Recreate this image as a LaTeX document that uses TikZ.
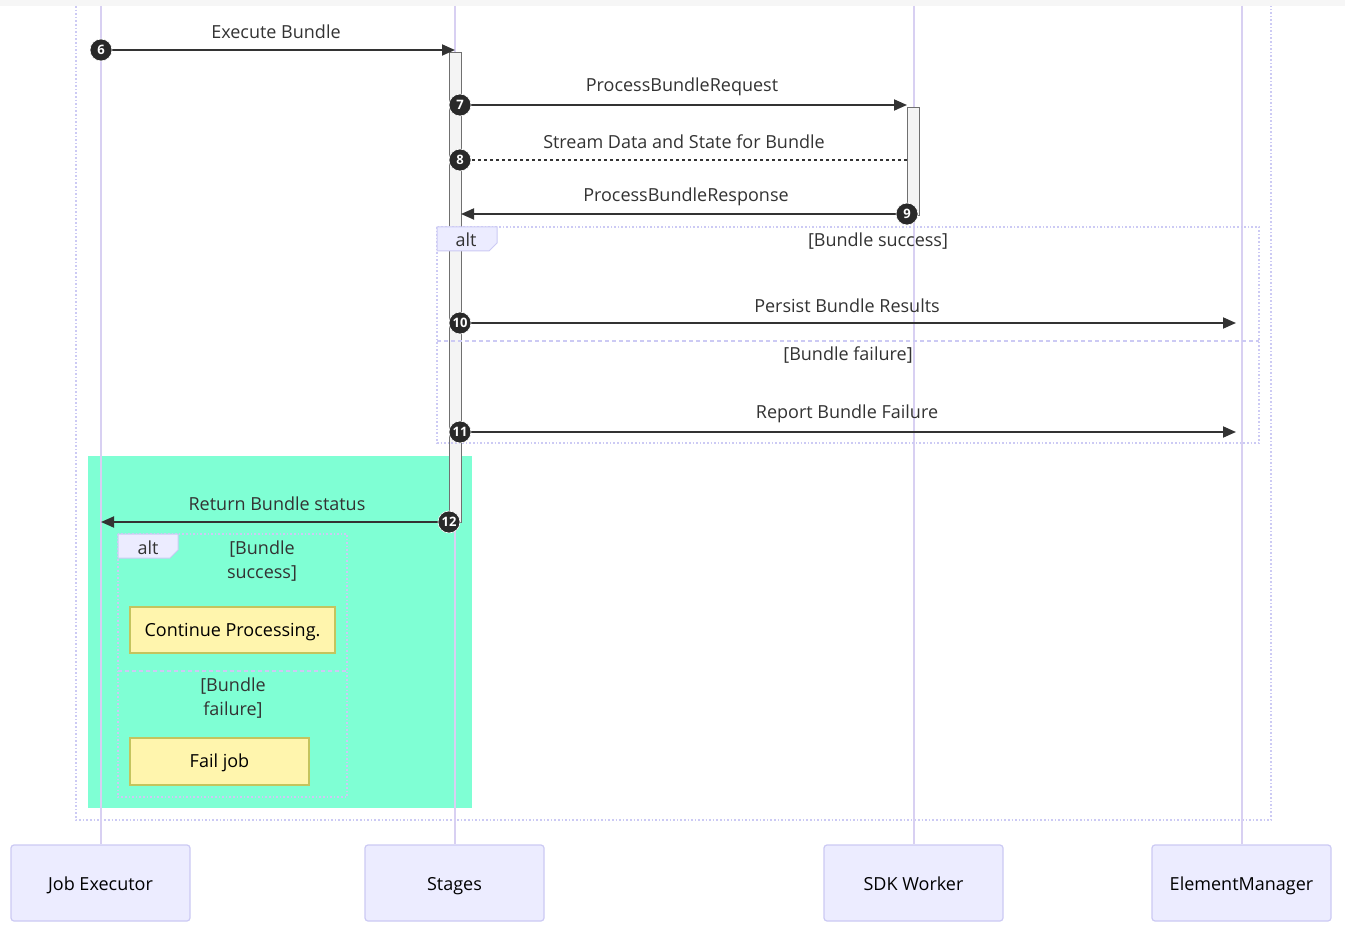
\documentclass[tikz,border=0pt]{standalone}
\usepackage{fontspec}
\setmainfont{Open Sans}
\usetikzlibrary{arrows.meta}
\definecolor{lifeline}{HTML}{D8D0F2}
\definecolor{actfill}{HTML}{ECECFF}
\definecolor{actdraw}{HTML}{CCCAF4}
\definecolor{msg}{HTML}{333333}
\definecolor{aqua}{HTML}{7FFFD4}
\definecolor{notefill}{HTML}{FFF5AD}
\definecolor{notedraw}{HTML}{C4C45E}
\definecolor{actbar}{HTML}{F4F4F4}
\definecolor{topband}{HTML}{F6F6F6}
\tikzset{
  txt/.style={font=\fontsize{18}{24}\selectfont, text=msg, inner sep=0pt},
  actorbox/.style={draw=actdraw, fill=actfill, rounded corners=3pt, line width=1.2pt,
     minimum width=179pt, minimum height=76pt, font=\fontsize{18}{22}\selectfont, text=black,
     text height=15pt, text depth=0pt},
  lifel/.style={draw=lifeline, line width=2pt},
  actbarbox/.style={draw=msg!70, fill=actbar, line width=0.8pt},
  msgline/.style={draw=msg, line width=1.8pt, -{Triangle[length=13pt,width=11pt]}},
  msgdot/.style={draw=msg, line width=1.5pt, dash pattern=on 3pt off 3pt},
  num/.style={circle, fill=msg!80!black, draw=white, line width=0.6pt, minimum size=22pt, inner sep=0pt,
     text=white, font=\fontsize{13}{13}\selectfont\bfseries},
  frame/.style={draw=actdraw, line width=1.6pt, dotted},
  divider/.style={draw=actdraw, line width=1.6pt, dash pattern=on 4pt off 3pt},
  altlbl/.style={draw=actdraw, fill=actfill, line width=1pt},
  notebox/.style={draw=notedraw, fill=notefill, line width=1.2pt, font=\fontsize{18}{22}\selectfont, text=black,
     text height=14pt, text depth=2pt}
}
\begin{document}
\begin{tikzpicture}[x=1pt,y=-1pt]
\useasboundingbox (0,0) rectangle (1345,925);
\fill[white] (0,0) rectangle (1345,925);
\fill[topband] (0,0) rectangle (1345,6);

% outer loop frame
\draw[frame] (76,6) -- (76,820) -- (1271,820) -- (1271,6);

% highlighted region
\fill[aqua] (88,456) rectangle (472,808);

% actors
\node[actorbox] (je) at (100.5,883) {Job Executor};
\node[actorbox] (st) at (454.5,883) {Stages};
\node[actorbox] (sdk) at (913.5,883) {SDK Worker};
\node[actorbox] (em) at (1241.5,883) {ElementManager};

% lifelines
\coordinate (jeTop) at (100.5,6);
\coordinate (stTop) at (454.5,6);
\coordinate (sdkTop) at (913.5,6);
\coordinate (emTop) at (1241.5,6);
\draw[lifel] (jeTop) -- (je.north);
\draw[lifel] (stTop) -- (st.north);
\draw[lifel] (sdkTop) -- (sdk.north);
\draw[lifel] (emTop) -- (em.north);

% activation bars
\draw[actbarbox] (449,52) rectangle (461,522);
\draw[actbarbox] (907,107) rectangle (919,215);

% alt frame 1
\draw[frame] (437,227) rectangle (1259,443);
\draw[altlbl] (437,227) -- (497,227) -- (497,243) -- (489,251) -- (437,251) -- cycle;
\node[txt] (alt1) at (466,240) {alt};
\node[txt] (c1a) at (878,241) {[Bundle success]};
\draw[divider] (437,341) -- (1259,341);
\node[txt] (c1b) at (848,355) {[Bundle failure]};

% alt frame 2
\draw[frame] (118,534) rectangle (347,797);
\draw[altlbl] (118,534) -- (178,534) -- (178,550) -- (170,558) -- (118,558) -- cycle;
\node[txt] (alt2) at (148,548) {alt};
\node[txt, align=center] (c2a) at (262,561) {[Bundle\\success]};
\draw[divider] (118,671) -- (347,671);
\node[txt, align=center] (c2b) at (233,698) {[Bundle\\failure]};

% notes
\node[notebox, minimum width=205pt, minimum height=46pt] (note1) at (232.5,630) {Continue Processing.};
\node[notebox, minimum width=179pt, minimum height=47pt] (note2) at (219.5,761.5) {Fail job};

% messages
\coordinate (e6) at (455,50);
\coordinate (e7) at (907,105);
\coordinate (e8) at (907,160);
\coordinate (e9) at (461,214);
\coordinate (e10) at (1236,323);
\coordinate (e11) at (1236,432);
\coordinate (e12) at (101,522);
\coordinate (s6) at (101,50);
\coordinate (s7) at (460,105);
\coordinate (s8) at (460,160);
\coordinate (s9) at (907,214);
\coordinate (s10) at (460,323);
\coordinate (s11) at (460,432);
\coordinate (s12) at (449,522);

\draw[msgline] (s6) -- (e6);
\draw[msgline] (s7) -- (e7);
\draw[msgdot] (s8) -- (e8);
\draw[msgline] (s9) -- (e9);
\draw[msgline] (s10) -- (e10);
\draw[msgline] (s11) -- (e11);
\draw[msgline] (s12) -- (e12);

\node[num] (n6) at (s6) {6};
\node[num] (n7) at (s7) {7};
\node[num] (n8) at (s8) {8};
\node[num] (n9) at (s9) {9};
\node[num] (n10) at (s10) {10};
\node[num] (n11) at (s11) {11};
\node[num] (n12) at (s12) {12};

\node[txt] (l6) at (276,32) {Execute Bundle};
\node[txt] (l7) at (682,87) {ProcessBundleRequest};
\node[txt] (l8) at (684,142) {Stream Data and State for Bundle};
\node[txt] (l9) at (686,197) {ProcessBundleResponse};
\node[txt] (l10) at (847,306) {Persist Bundle Results};
\node[txt] (l11) at (847,414) {Report Bundle Failure};
\node[txt] (l12) at (277,504) {Return Bundle status};
\end{tikzpicture}
\end{document}
